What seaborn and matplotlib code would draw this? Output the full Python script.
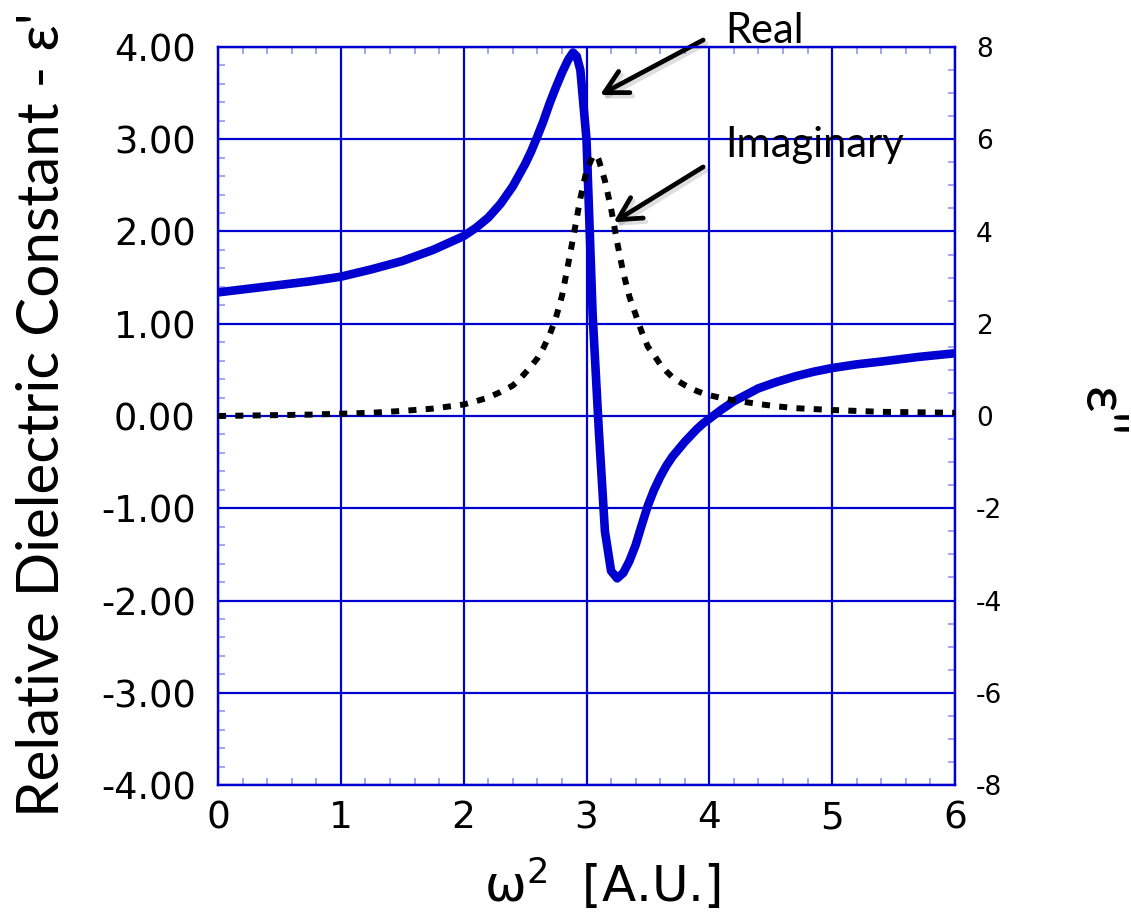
import matplotlib
matplotlib.use("Agg")
import matplotlib.pyplot as plt
import matplotlib.patheffects as pe
from matplotlib.ticker import MultipleLocator, FormatStrFormatter
import seaborn as sns

# Lorentz-oscillator dielectric response versus squared frequency
omega_sq = [0, 0.25, 0.5, 0.75, 1.0, 1.25, 1.5, 1.75, 2.0, 2.1,
            2.2, 2.3, 2.4, 2.45, 2.5, 2.55, 2.6, 2.65, 2.7, 2.75,
            2.8, 2.85, 2.89, 2.92, 2.95, 3.0, 3.05, 3.08, 3.1, 3.15,
            3.2, 3.25, 3.3, 3.35, 3.4, 3.45, 3.5, 3.55, 3.6, 3.65,
            3.7, 3.75, 3.8, 3.85, 3.9, 3.95, 4.0, 4.1, 4.2, 4.3,
            4.4, 4.55, 4.7, 4.85, 5.0, 5.2, 5.4, 5.55, 5.7, 5.85, 6.0]

eps_real = [1.34, 1.38, 1.42, 1.46, 1.51, 1.59, 1.68, 1.80, 1.95, 2.04,
            2.15, 2.30, 2.49, 2.61, 2.73, 2.87, 3.03, 3.20, 3.39, 3.56,
            3.72, 3.86, 3.94, 3.90, 3.75, 3.00, 1.10, 0.35, -0.15, -1.25,
            -1.68, -1.76, -1.70, -1.57, -1.40, -1.18, -0.97, -0.80, -0.66, -0.54,
            -0.44, -0.36, -0.28, -0.21, -0.14, -0.08, -0.03, 0.07, 0.16, 0.23,
            0.30, 0.37, 0.43, 0.48, 0.52, 0.56, 0.59, 0.615, 0.64, 0.66, 0.68]

eps_imag = [0.0, 0.01, 0.02, 0.03, 0.05, 0.07, 0.11, 0.16, 0.25, 0.32,
            0.40, 0.52, 0.66, 0.78, 0.93, 1.08, 1.25, 1.48, 1.76, 2.12,
            2.60, 3.28, 3.85, 4.28, 4.72, 5.32, 5.62, 5.66, 5.55, 5.10,
            4.50, 3.76, 3.10, 2.58, 2.20, 1.82, 1.50, 1.32, 1.12, 0.97,
            0.84, 0.75, 0.67, 0.60, 0.54, 0.49, 0.45, 0.39, 0.34, 0.30,
            0.26, 0.21, 0.17, 0.15, 0.13, 0.11, 0.09, 0.085, 0.08, 0.075, 0.07]

x_ticks = [0, 1, 2, 3, 4, 5, 6]
left_ticks = [-4, -3, -2, -1, 0, 1, 2, 3, 4]
right_ticks = [-8, -6, -4, -2, 0, 2, 4, 6, 8]

BLUE = "#0000D0"
MINOR = "#8a8aee"

sns.set_theme(style="white")
plt.rcParams["font.family"] = ["DejaVu Sans"]
plt.rcParams["axes.unicode_minus"] = False
plt.rcParams["mathtext.fontset"] = "dejavusans"

W, H = 1131, 913
fig = plt.figure(figsize=(W / 100, H / 100), dpi=100)
ax = fig.add_axes([218 / W, 1 - 785 / H, (955 - 218) / W, (785 - 47) / H])
ax2 = ax.twinx()

# real part on the left axis
sns.lineplot(x=omega_sq, y=eps_real, ax=ax, color=BLUE, linewidth=6.2,
             solid_joinstyle="round", zorder=3)
# imaginary part on the right axis
sns.lineplot(x=omega_sq, y=eps_imag, ax=ax2, color="black", linewidth=4.3,
             linestyle=(0, (1.35, 1.55)), zorder=4)

ax.set_xlim(0, 6)
ax.set_ylim(-4, 4)
ax2.set_ylim(-8, 8)

ax.set_xticks(x_ticks)
ax.set_yticks(left_ticks)
ax2.set_yticks(right_ticks)
ax.xaxis.set_minor_locator(MultipleLocator(0.2))
ax.yaxis.set_minor_locator(MultipleLocator(0.2))
ax2.yaxis.set_minor_locator(MultipleLocator(0.5))
ax.yaxis.set_major_formatter(FormatStrFormatter("%.2f"))
ax2.yaxis.set_major_formatter(FormatStrFormatter("%d"))

ax.grid(True, which="major", color=BLUE, linewidth=1.6)
ax.set_axisbelow(True)

for a in (ax, ax2):
    for s in a.spines.values():
        s.set_visible(True)
        s.set_color(BLUE)
        s.set_linewidth(1.6)
    a.set_xlabel("")
    a.set_ylabel("")

ax.tick_params(axis="x", which="major", length=0, pad=11, labelsize=27,
               labelcolor="black")
ax.tick_params(axis="y", which="major", length=0, pad=16, labelsize=26.5,
               labelcolor="black", right=False)
ax.tick_params(which="minor", direction="in", length=5, width=1.1,
               color=MINOR, top=True, bottom=True, left=True, right=False)
ax2.tick_params(axis="y", which="major", length=0, pad=15, labelsize=19,
                labelcolor="black")
ax2.tick_params(axis="y", which="minor", direction="in", length=5, width=1.1,
                color=MINOR)
ax2.grid(False)

# axis titles
fig.text(43 / W, 1 - 415 / H, "Relative Dielectric Constant - ε'",
         rotation=90, ha="center", va="center", fontsize=42,
         family=["Lato", "DejaVu Sans"], color="black")
fig.text(1100 / W, 1 - 412 / H, "ε''", rotation=-90, ha="center",
         va="center", fontsize=42, family=["Lato", "DejaVu Sans"],
         color="black")
fig.text(602 / W, 11 / H, "ω$^{2}$  [A.U.]", ha="center", va="baseline",
         fontsize=36, color="black")

# callouts
shadow = [pe.SimpleLineShadow(offset=(2, -2.5), shadow_color="black",
                              alpha=0.13), pe.Normal()]
arrow_kw = dict(arrowstyle="->,head_length=0.9,head_width=0.48",
                color="black", lw=3.4, shrinkA=0, shrinkB=0,
                mutation_scale=18)

ax.annotate("", xy=(3.11, 3.48), xytext=(3.95, 4.076),
            arrowprops=dict(arrow_kw, path_effects=shadow),
            annotation_clip=False)
ax.annotate("", xy=(3.22, 2.10), xytext=(3.95, 2.70),
            arrowprops=dict(arrow_kw, path_effects=shadow),
            annotation_clip=False)
ax.text(4.13, 4.04, "Real", ha="left", va="baseline", fontsize=30,
        family=["Lato", "DejaVu Sans"], color="black", clip_on=False)
ax.text(4.13, 2.81, "Imaginary", ha="left", va="baseline", fontsize=30,
        family=["Lato", "DejaVu Sans"], color="black", clip_on=False)

fig.savefig("out.png", dpi=100)
